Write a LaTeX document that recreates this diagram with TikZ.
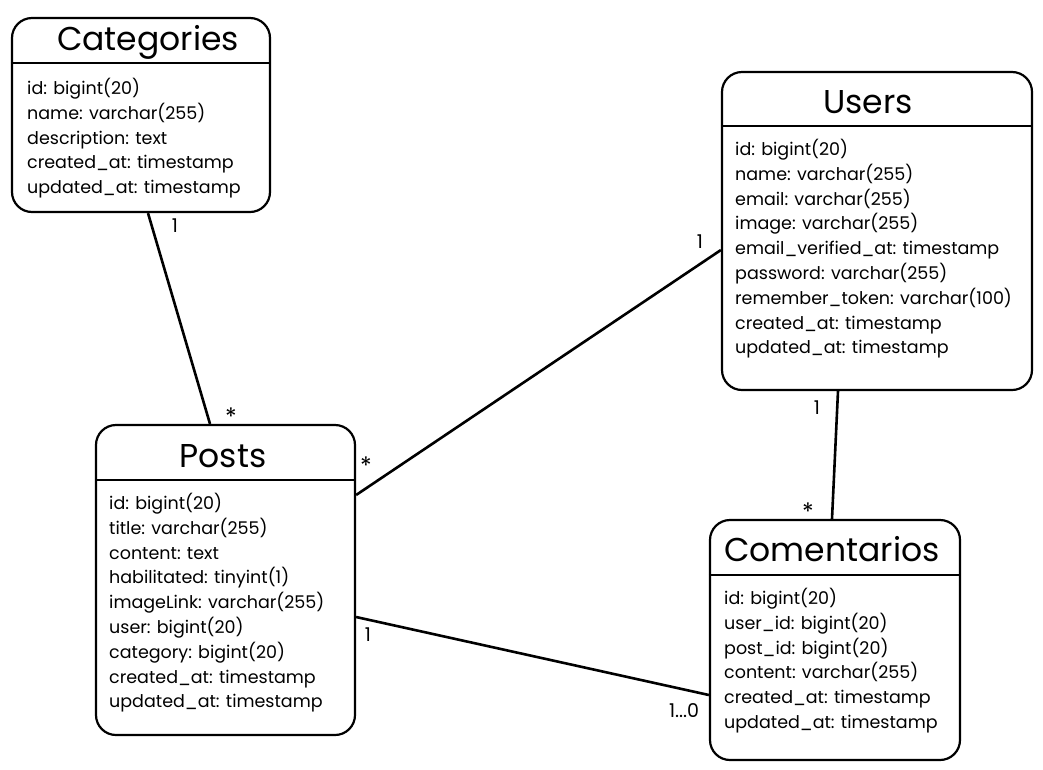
\documentclass[tikz,border=0pt]{standalone}
\usepackage{fontspec}
\setmainfont{Poppins}
\begin{document}
\begin{tikzpicture}[x=1pt,y=-1pt,
  tbl/.style={draw=black, line width=2.2pt, rounded corners=20pt, inner sep=0pt},
  sep/.style={line width=2.2pt},
  title/.style={font=\fontsize{33}{38}\selectfont},
  rows/.style={anchor=north west, align=left, inner sep=0pt, font=\fontsize{17.5}{24.8}\selectfont},
  conn/.style={line width=2.6pt},
  card/.style={font=\fontsize{19}{22}\selectfont, inner sep=0pt},
  star/.style={font=\fontsize{24}{26}\selectfont, inner sep=0pt}]
\useasboundingbox (0,0) rectangle (1043,769);
% tables
\node[tbl, minimum width=258pt, minimum height=194pt] (cat) at (141,115) {};
\node[tbl, minimum width=310pt, minimum height=318pt] (usr) at (877,231) {};
\node[tbl, minimum width=259pt, minimum height=310pt] (pst) at (225.5,580) {};
\node[tbl, minimum width=250pt, minimum height=240pt] (com) at (835,640) {};
% header separators
\draw[sep] (cat.west |- 0,63) -- (cat.east |- 0,63);
\draw[sep] (usr.west |- 0,126) -- (usr.east |- 0,126);
\draw[sep] (pst.west |- 0,480) -- (pst.east |- 0,480);
\draw[sep] (com.west |- 0,575) -- (com.east |- 0,575);
% titles
\node[title] (catT) at (148,42) {Categories};
\node[title] (usrT) at (868,102) {Users};
\node[title] (pstT) at (223,456) {Posts};
\node[title] (comT) at (832,549) {Comentarios};
% rows
\node[rows] (catR) at (27,78) {id: bigint(20)\\name: varchar(255)\\description: text\\created\_at: timestamp\\updated\_at: timestamp};
\node[rows] (usrR) at (735,139) {id: bigint(20)\\name: varchar(255)\\email: varchar(255)\\image: varchar(255)\\email\_verified\_at: timestamp\\password: varchar(255)\\remember\_token: varchar(100)\\created\_at: timestamp\\updated\_at: timestamp};
\node[rows] (pstR) at (109,493) {id: bigint(20)\\title: varchar(255)\\content: text\\habilitated: tinyint(1)\\imageLink: varchar(255)\\user: bigint(20)\\category: bigint(20)\\created\_at: timestamp\\updated\_at: timestamp};
\node[rows] (comR) at (724,588) {id: bigint(20)\\user\_id: bigint(20)\\post\_id: bigint(20)\\content: varchar(255)\\created\_at: timestamp\\updated\_at: timestamp};
% connectors
\draw[conn] (cat.south -| 148,0) -- (pst.north -| 210,0);
\draw[conn] (usr.west |- 0,250) -- (pst.east |- 0,495);
\draw[conn] (usr.south -| 838,0) -- (com.north -| 832,0);
\draw[conn] (pst.east |- 0,617) -- (com.west |- 0,695);
% cardinalities
\node[card] (l1) at (175,226) {1};
\node[star] (l2) at (231,417) {*};
\node[card] (l3) at (700,242) {1};
\node[star] (l4) at (366,466) {*};
\node[card] (l5) at (817,408) {1};
\node[star] (l6) at (808,512) {*};
\node[card] (l7) at (368,635) {1};
\node[card] (l8) at (684,711) {1...0};
\end{tikzpicture}
\end{document}
